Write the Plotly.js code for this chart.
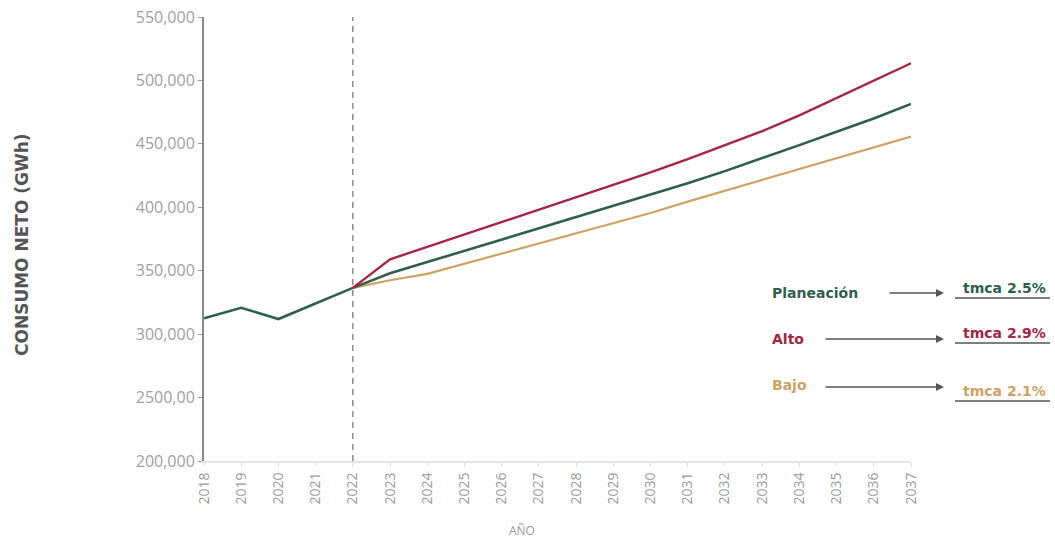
<!DOCTYPE html>
<html>
<head>
<meta charset="utf-8">
<script src="https://cdn.plot.ly/plotly-3.0.1.min.js"></script>
<style>html,body{margin:0;padding:0;background:#fff;}#chart{width:1055px;height:539px;}</style>
</head>
<body>
<div id="chart"></div>
<script>
// ---- data ----
const histYears = [2018, 2019, 2020, 2021, 2022];
const histValues = [312500, 320800, 311900, 324000, 336500];

const projYears = [2022, 2023, 2024, 2025, 2026, 2027, 2028, 2029, 2030, 2031, 2032, 2033, 2034, 2035, 2036, 2037];
const planeacion = [336500, 348000, 356800, 365600, 374400, 383200, 392000, 400800, 409600, 419000, 428500, 438500, 449000, 459500, 470000, 481500];
const alto       = [336500, 359000, 368800, 378500, 388300, 398000, 407800, 417500, 427500, 438000, 449000, 460000, 472500, 486000, 500000, 513500];
const bajo       = [336500, 342500, 347500, 355500, 363500, 371500, 379500, 387500, 395500, 404500, 413000, 421500, 430000, 438500, 447000, 455700];

const yTickVals = [200000, 250000, 300000, 350000, 400000, 450000, 500000, 550000];
const yTickText = ['200,000', '2500,00', '300,000', '350,000', '400,000', '450,000', '500,000', '550,000'];
const xTickVals = [2018, 2019, 2020, 2021, 2022, 2023, 2024, 2025, 2026, 2027, 2028, 2029, 2030, 2031, 2032, 2033, 2034, 2035, 2036, 2037];

const scenarioNames = ['Planeación', 'Alto', 'Bajo'];
const scenarioRates = ['tmca 2.5%', 'tmca 2.9%', 'tmca 2.1%'];
const yTitle = 'CONSUMO NETO (GWh)';
const xTitle = 'AÑO';

const GREEN = '#2e5f4b', RED = '#a6253f', GOLD = '#cfa264';

// ---- layout helpers (pixel -> paper) ----
const M = {l: 204, r: 144, t: 17, b: 78};
const W = 1055, H = 539;
const PW = W - M.l - M.r, PH = H - M.t - M.b;
const px = x => (x - M.l) / PW;
const py = y => (H - M.b - y) / PH;

const traces = [
  {x: histYears, y: histValues, mode: 'lines', line: {color: GREEN, width: 2.6}, name: 'Histórico'},
  {x: projYears, y: bajo, mode: 'lines', line: {color: GOLD, width: 2.2}, name: scenarioNames[2]},
  {x: projYears, y: planeacion, mode: 'lines', line: {color: GREEN, width: 2.6}, name: scenarioNames[0]},
  {x: projYears, y: alto, mode: 'lines', line: {color: RED, width: 2.4}, name: scenarioNames[1]}
];

const labelFont = 'Open Sans, sans-serif';
const boldFont = 'DejaVu Sans, sans-serif';

const rows = [
  {name: scenarioNames[0], rate: scenarioRates[0], color: GREEN, ny: 293, nx: 770, ax0: 888, ay: 293, ry: 288, ly: 298},
  {name: scenarioNames[1], rate: scenarioRates[1], color: RED, ny: 339, nx: 770, ax0: 824, ay: 339, ry: 333, ly: 343},
  {name: scenarioNames[2], rate: scenarioRates[2], color: GOLD, ny: 385, nx: 770, ax0: 824, ay: 387, ry: 391, ly: 401}
];

const annotations = [
  {xref: 'paper', yref: 'paper', x: px(22), y: py(245), xanchor: 'center', yanchor: 'middle', textangle: -90,
   text: '<b>' + yTitle + '</b>', showarrow: false, font: {family: boldFont, size: 17, color: '#555'}},
  {xref: 'paper', yref: 'paper', x: px(522), y: py(530), xanchor: 'center', yanchor: 'middle',
   text: xTitle, showarrow: false, font: {family: labelFont, size: 12, color: '#9a9a9a'}}
];
const shapes = [
  {type: 'line', xref: 'x', yref: 'paper', x0: 2022, x1: 2022, y0: 0, y1: 1,
   line: {color: '#8a8a8a', width: 1.5, dash: '6px,5px'}}
];
rows.forEach(r => {
  annotations.push({xref: 'paper', yref: 'paper', x: px(r.nx), y: py(r.ny), xanchor: 'left', yanchor: 'middle',
    text: '<b>' + r.name + '</b>', showarrow: false, font: {family: boldFont, size: 14, color: r.color}});
  annotations.push({xref: 'paper', yref: 'paper', x: px(944), y: py(r.ay), axref: 'pixel', ayref: 'pixel',
    ax: -(944 - r.ax0), ay: 0, text: '', showarrow: true, arrowhead: 2, arrowsize: 1, arrowwidth: 1.6, arrowcolor: '#555'});
  annotations.push({xref: 'paper', yref: 'paper', x: px(1004), y: py(r.ry), xanchor: 'center', yanchor: 'middle',
    text: '<b>' + r.rate + '</b>', showarrow: false, font: {family: boldFont, size: 14, color: r.color}});
  shapes.push({type: 'line', xref: 'paper', yref: 'paper', x0: px(955), x1: px(1050), y0: py(r.ly), y1: py(r.ly),
    line: {color: '#555', width: 1.6}});
});

const layout = {
  width: W, height: H,
  margin: M,
  paper_bgcolor: '#fff', plot_bgcolor: '#fff',
  showlegend: false,
  xaxis: {
    range: [2018, 2037], tickvals: xTickVals, ticktext: xTickVals.map(String), tickangle: -90,
    showgrid: false, zeroline: false, showline: true, linecolor: '#e4e4e4', linewidth: 2,
    ticks: 'outside', ticklen: 4, tickcolor: '#e0e0e0',
    tickfont: {family: labelFont, size: 14, color: '#9a9a9a'}
  },
  yaxis: {
    range: [200000, 550000], tickvals: yTickVals, ticktext: yTickText,
    showgrid: false, zeroline: false, showline: true, linecolor: '#8a8a8a', linewidth: 2,
    ticks: 'outside', ticklen: 4, tickcolor: '#9a9a9a',
    tickfont: {family: labelFont, size: 16, color: '#a0a0a0'}
  },
  annotations: annotations,
  shapes: shapes
};

Plotly.newPlot('chart', traces, layout, {displayModeBar: false, staticPlot: true});
</script>
</body>
</html>
